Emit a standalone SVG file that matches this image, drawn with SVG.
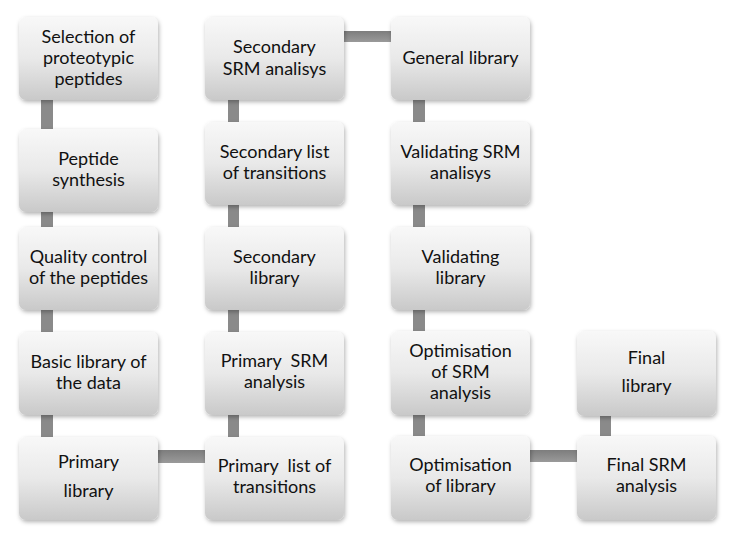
<svg xmlns="http://www.w3.org/2000/svg" width="744" height="539" viewBox="0 0 744 539">
<defs>
<linearGradient id="boxg" x1="0" y1="0" x2="0" y2="1">
<stop offset="0" stop-color="#f8f8f8"/>
<stop offset="0.5" stop-color="#e9e9e9"/>
<stop offset="1" stop-color="#c9c9c9"/>
</linearGradient>
<linearGradient id="hbar" x1="0" y1="0" x2="0" y2="1">
<stop offset="0" stop-color="#7d7d7d"/>
<stop offset="1" stop-color="#9a9a9a"/>
</linearGradient>
<filter id="sh" x="-10%" y="-10%" width="125%" height="130%">
<feDropShadow dx="1" dy="2" stdDeviation="2" flood-color="#000" flood-opacity="0.3"/>
</filter>
</defs>
<style>
.box{fill:url(#boxg);filter:url(#sh)}
.v{fill:#8a8a8a}
.h{fill:url(#hbar)}
text{font-family:Lato,"Open Sans","Liberation Sans",sans-serif;font-size:18px;fill:#111111;text-anchor:middle;white-space:pre}
</style>
<rect width="744" height="539" fill="#ffffff"/>
<g id="connectors">
<rect class="v" x="41" y="95" width="12" height="40"/>
<rect class="v" x="41" y="207" width="12" height="25"/>
<rect class="v" x="41" y="305" width="12" height="32"/>
<rect class="v" x="41" y="410" width="12" height="32"/>
<rect class="h" x="153" y="450" width="57" height="13"/>
<rect class="v" x="228" y="95" width="11" height="32"/>
<rect class="v" x="228" y="200" width="11" height="32"/>
<rect class="v" x="228" y="305" width="11" height="32"/>
<rect class="v" x="228" y="410" width="11" height="32"/>
<rect class="h" x="339" y="31" width="57" height="11"/>
<rect class="v" x="413" y="95" width="12" height="32"/>
<rect class="v" x="413" y="200" width="12" height="32"/>
<rect class="v" x="413" y="305" width="12" height="31"/>
<rect class="v" x="413" y="410" width="12" height="31"/>
<rect class="h" x="525" y="450" width="57" height="12"/>
<rect class="v" x="600" y="411" width="11" height="30"/>
</g>
<g id="n1"><rect class="box" x="19" y="17" width="139" height="83" rx="7"/>
<text x="88.5" y="42.5">Selection of</text><text x="88.5" y="63.5">proteotypic</text><text x="88.5" y="84.5">peptides</text></g>
<g id="n2"><rect class="box" x="19" y="129" width="139" height="83" rx="7"/>
<text x="88.5" y="165">Peptide</text><text x="88.5" y="186">synthesis</text></g>
<g id="n3"><rect class="box" x="19" y="227" width="139" height="83" rx="7"/>
<text x="88.5" y="263">Quality control</text><text x="88.5" y="284">of the peptides</text></g>
<g id="n4"><rect class="box" x="19" y="332" width="139" height="83" rx="7"/>
<text x="88.5" y="368">Basic library of</text><text x="88.5" y="389">the data</text></g>
<g id="n5"><rect class="box" x="19" y="437" width="139" height="83" rx="7"/>
<text x="88.5" y="468">Primary</text><text x="88.5" y="497">library</text></g>
<g id="n6"><rect class="box" x="205" y="437" width="139" height="83" rx="7"/>
<text x="274.5" y="472" xml:space="preserve">Primary  list of</text><text x="274.5" y="493">transitions</text></g>
<g id="n7"><rect class="box" x="205" y="332" width="139" height="83" rx="7"/>
<text x="274.5" y="367" xml:space="preserve">Primary  SRM</text><text x="274.5" y="388">analysis</text></g>
<g id="n8"><rect class="box" x="205" y="227" width="139" height="83" rx="7"/>
<text x="274.5" y="263">Secondary</text><text x="274.5" y="284">library</text></g>
<g id="n9"><rect class="box" x="205" y="122" width="139" height="83" rx="7"/>
<text x="274.5" y="158">Secondary list</text><text x="274.5" y="179">of transitions</text></g>
<g id="n10"><rect class="box" x="205" y="17" width="139" height="83" rx="7"/>
<text x="274.5" y="53">Secondary</text><text x="274.5" y="75">SRM analisys</text></g>
<g id="n11"><rect class="box" x="391" y="17" width="139" height="83" rx="7"/>
<text x="460.5" y="64">General library</text></g>
<g id="n12"><rect class="box" x="391" y="122" width="139" height="83" rx="7"/>
<text x="460.5" y="158">Validating SRM</text><text x="460.5" y="179">analisys</text></g>
<g id="n13"><rect class="box" x="391" y="227" width="139" height="83" rx="7"/>
<text x="460.5" y="263">Validating</text><text x="460.5" y="284">library</text></g>
<g id="n14"><rect class="box" x="391" y="331" width="139" height="84" rx="7"/>
<text x="460.5" y="357">Optimisation</text><text x="460.5" y="378">of SRM</text><text x="460.5" y="399">analysis</text></g>
<g id="n15"><rect class="box" x="391" y="436" width="139" height="84" rx="7"/>
<text x="460.5" y="471">Optimisation</text><text x="460.5" y="492">of library</text></g>
<g id="n16"><rect class="box" x="577" y="436" width="139" height="84" rx="7"/>
<text x="646.5" y="471">Final SRM</text><text x="646.5" y="492">analysis</text></g>
<g id="n17"><rect class="box" x="577" y="331" width="139" height="85" rx="7"/>
<text x="646.5" y="364">Final</text><text x="646.5" y="392">library</text></g>
</svg>
